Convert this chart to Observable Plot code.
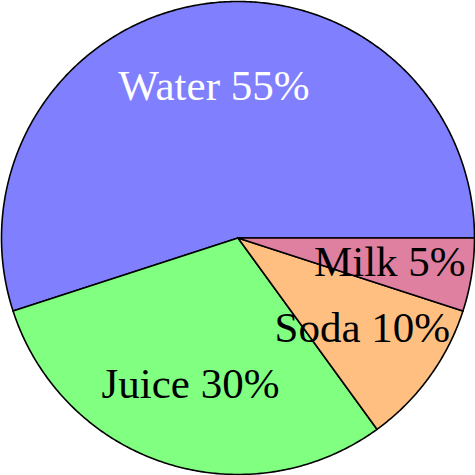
<!DOCTYPE html>
<html>
<head>
<meta charset="utf-8">
<script src="https://cdn.jsdelivr.net/npm/d3@7"></script>
<script src="https://cdn.jsdelivr.net/npm/@observablehq/plot@0.6"></script>
<style>
  html, body { margin: 0; padding: 0; background: #fff; }
</style>
</head>
<body>
<div id="chart"></div>
<script>
const categories = ["Water", "Juice", "Soda", "Milk"];
const values = [55, 30, 10, 5];
const sliceColors = ["#8080ff", "#80ff80", "#ffbf80", "#df80a0"];
const labelColors = ["white", "black", "black", "black"];

// Build slice polygons (math angles, counterclockwise from east)
const total = d3.sum(values);
const polys = [];
const labels = [];
let start = 0;
categories.forEach((name, i) => {
  const sweep = values[i] / total * 2 * Math.PI;
  const end = start + sweep;
  const steps = Math.max(2, Math.ceil(sweep / (Math.PI / 360)));
  polys.push({name, x: 0, y: 0});
  for (let k = 0; k <= steps; k++) {
    const a = start + sweep * k / steps;
    polys.push({name, x: Math.cos(a), y: Math.sin(a)});
  }
  polys.push({name, x: 0, y: 0});
  const mid = (start + end) / 2;
  labels.push({name, text: `${name} ${values[i]}%`, x: 0.65 * Math.cos(mid), y: 0.65 * Math.sin(mid), color: labelColors[i]});
  start = end;
});

const chart = Plot.plot({
  width: 475,
  height: 475,
  marginTop: 1,
  marginBottom: 1,
  marginLeft: 1,
  marginRight: 1,
  x: {domain: [-1, 1], axis: null},
  y: {domain: [-1, 1], axis: null},
  color: {domain: categories, range: sliceColors},
  style: {background: "white"},
  marks: [
    Plot.line(polys, {x: "x", y: "y", z: "name", fill: "name", stroke: "black", strokeWidth: 1.6, strokeLinejoin: "round", curve: "linear"}),
    Plot.text(labels, {x: "x", y: "y", text: "text", fill: "color", fontFamily: "Liberation Serif", fontSize: 43, textAnchor: "middle", lineAnchor: "middle"})
  ]
});
document.getElementById("chart").appendChild(chart);
</script>
</body>
</html>
